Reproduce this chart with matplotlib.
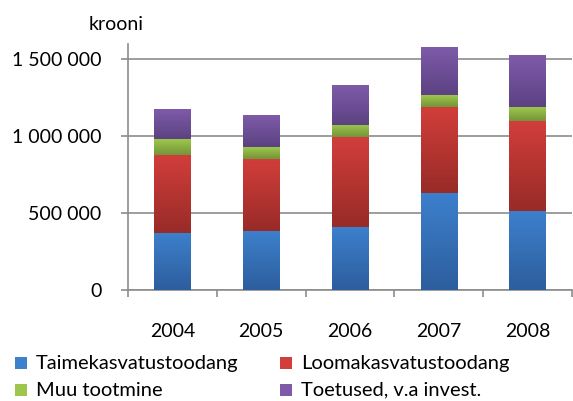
import numpy as np
import matplotlib.pyplot as plt
from matplotlib.colors import LinearSegmentedColormap
from matplotlib.patches import Rectangle

plt.rcParams['font.family'] = ['Lato', 'DejaVu Sans']

years = ['2004', '2005', '2006', '2007', '2008']
taime = [372000, 385000, 411000, 632000, 515000]
looma = [508000, 469000, 586000, 561000, 587000]
muu = [104000, 78000, 79000, 78000, 91000]
toetused = [189000, 202000, 254000, 307000, 332000]

series = [
    ('Taimekasvatustoodang', taime, '#3d80cc', '#2d5e9e'),
    ('Loomakasvatustoodang', looma, '#d23e3a', '#982b28'),
    ('Muu tootmine', muu, '#9cc74b', '#75953a'),
    ('Toetused, v.a invest.', toetused, '#7e5ba9', '#5c4282'),
]

W, H = 573, 401
fig = plt.figure(figsize=(W / 100, H / 100), dpi=100)
ax = fig.add_axes([128 / W, 1 - 290 / H, 444 / W, 246 / H])

x = np.arange(len(years))
width = 0.41
bottom = np.zeros(len(years))
grad = np.linspace(1, 0, 64).reshape(-1, 1)
for name, vals, top_c, bot_c in series:
    bars = ax.bar(x, vals, width, bottom=bottom, color=bot_c, linewidth=0, zorder=3)
    cmap = LinearSegmentedColormap.from_list(name, [bot_c, top_c])
    for b in bars:
        x0, y0 = b.get_x(), b.get_y()
        ax.imshow(grad, cmap=cmap, extent=[x0, x0 + b.get_width(), y0, y0 + b.get_height()],
                  aspect='auto', zorder=4, vmin=0, vmax=1)
    bottom += np.array(vals)

ax.set_xlim(-0.5, len(years) - 0.5)
ax.set_ylim(0, 1600000)
ax.set_yticks([0, 500000, 1000000, 1500000])
ax.set_yticklabels(['0', '500 000', '1 000 000', '1 500 000'], fontsize=14)
ax.set_xticks(x)
ax.set_xticklabels(years, fontsize=14)
ax.set_xticks(np.arange(len(years) + 1) - 0.5, minor=True)
ax.tick_params(axis='x', which='major', length=0, pad=24)
ax.tick_params(axis='x', which='minor', length=5, color='#8c8c8c', width=1.2)
ax.tick_params(axis='y', length=5, color='#8c8c8c', width=1.2, pad=14)
ax.grid(axis='y', color='#8c8c8c', linewidth=1.2, zorder=0)
for s in ['top', 'right']:
    ax.spines[s].set_visible(False)
for s in ['left', 'bottom']:
    ax.spines[s].set_color('#8c8c8c')
    ax.spines[s].set_linewidth(1.2)

fig.text(116 / W, 1 - 25 / H, 'krooni', fontsize=14, ha='center', va='center')

# legend, two columns drawn by hand
leg_pos = [(15, 363), (280, 363), (15, 390), (280, 390)]
for (name, vals, top_c, bot_c), (lx, ly) in zip(series, leg_pos):
    fig.patches.append(Rectangle((lx / W, 1 - (ly + 6) / H), 12 / W, 12 / H,
                                 transform=fig.transFigure, facecolor=top_c,
                                 edgecolor='none'))
    fig.text((lx + 21) / W, 1 - ly / H, name, fontsize=14.5, ha='left', va='center')

fig.savefig('out.png', dpi=100)
